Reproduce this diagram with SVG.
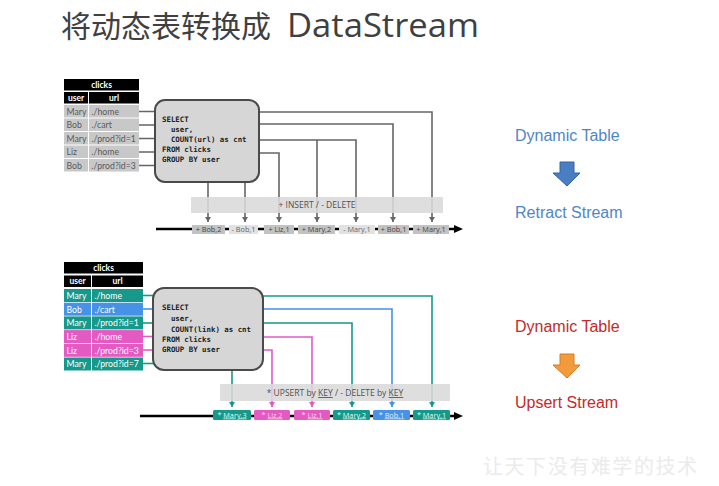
<svg xmlns="http://www.w3.org/2000/svg" width="719" height="486" viewBox="0 0 719 486">
<style>
.cell{font-family:Lato,"Open Sans",sans-serif;font-size:8.7px}
.hd{font-family:Lato,"Open Sans",sans-serif;font-size:8.5px;font-weight:bold;fill:#fff;text-anchor:middle}
.g{fill:#5a5a5a}
.w{fill:#fff}
.sql{font-family:"DejaVu Sans Mono","Liberation Mono",monospace;font-size:7.4px;font-weight:bold;fill:#222;white-space:pre}
.box{fill:#d6d6d6;stroke:#4a4a4a;stroke-width:2}
.gl{fill:none;stroke:#666;stroke-width:1.6}
.tl{fill:none;stroke:#16998a;stroke-width:1.6}
.bl{fill:none;stroke:#4592e6;stroke-width:1.6}
.pl{fill:none;stroke:#e35ac3;stroke-width:1.6}
.band{fill:#dadada;fill-opacity:0.88}
.bandt{font-family:"Open Sans",Lato,sans-serif;font-size:8.5px;fill:#505050;text-anchor:middle}
.ev{font-family:"Open Sans",Lato,sans-serif;font-size:7.3px;text-anchor:middle}
.lab{font-family:"Liberation Sans",Arial,sans-serif;font-size:16px}
</style>
<defs>
<marker id="ag" markerWidth="6" markerHeight="6" refX="5" refY="3" orient="auto" markerUnits="userSpaceOnUse"><path d="M0,0 L5,3 L0,6 z" fill="#666"/></marker>
<marker id="at" markerWidth="6" markerHeight="6" refX="5" refY="3" orient="auto" markerUnits="userSpaceOnUse"><path d="M0,0 L5,3 L0,6 z" fill="#16998a"/></marker>
<marker id="ab" markerWidth="6" markerHeight="6" refX="5" refY="3" orient="auto" markerUnits="userSpaceOnUse"><path d="M0,0 L5,3 L0,6 z" fill="#4592e6"/></marker>
<marker id="ap" markerWidth="6" markerHeight="6" refX="5" refY="3" orient="auto" markerUnits="userSpaceOnUse"><path d="M0,0 L5,3 L0,6 z" fill="#e35ac3"/></marker>
</defs>
<rect width="719" height="486" fill="#fff"/>

<g id="title">
<text x="61" y="37" font-family="'Noto Sans CJK SC',sans-serif" font-size="30" fill="#404040">将动态表转换成</text>
<text x="287" y="37" font-family="'Open Sans','Noto Sans',sans-serif" font-size="33" fill="#404040" textLength="192" lengthAdjust="spacingAndGlyphs">DataStream</text>
</g>

<!-- ===== TOP SECTION ===== -->
<g id="connectors-top">
<path class="gl" d="M139,111.5 H155 M139,125 H155 M139,138.5 H155 M139,152 H155 M139,165.5 H155"/>
<path class="gl" d="M259,112 H432 V222" marker-end="url(#ag)"/>
<path class="gl" d="M259,124 H393 V222" marker-end="url(#ag)"/>
<path class="gl" d="M259,140 H356 V222" marker-end="url(#ag)"/>
<path class="gl" d="M317,140 V222" marker-end="url(#ag)"/>
<path class="gl" d="M259,153 H279 V222" marker-end="url(#ag)"/>
<path class="gl" d="M208,182 V222" marker-end="url(#ag)"/>
<path class="gl" d="M245,182 V222" marker-end="url(#ag)"/>
</g>

<g id="table-top">
<rect x="64" y="79" width="75" height="11.5" fill="#000"/>
<text class="hd" x="101.5" y="87.8">clicks</text>
<rect x="64" y="92" width="24" height="11.5" fill="#000"/>
<rect x="89" y="92" width="50" height="11.5" fill="#000"/>
<text class="hd" x="76" y="100.8">user</text>
<text class="hd" x="114" y="100.8">url</text>
<g fill="#c8c8c8">
<rect x="64" y="105" width="24" height="12.5"/><rect x="89" y="105" width="50" height="12.5"/>
<rect x="64" y="118.5" width="24" height="12.5"/><rect x="89" y="118.5" width="50" height="12.5"/>
<rect x="64" y="132" width="24" height="12.5"/><rect x="89" y="132" width="50" height="12.5"/>
<rect x="64" y="145.5" width="24" height="12.5"/><rect x="89" y="145.5" width="50" height="12.5"/>
<rect x="64" y="159" width="24" height="12.5"/><rect x="89" y="159" width="50" height="12.5"/>
</g>
<g class="cell g">
<text x="66.5" y="114.5">Mary</text><text x="91.5" y="114.5">./home</text>
<text x="66.5" y="128">Bob</text><text x="91.5" y="128">./cart</text>
<text x="66.5" y="141.5">Mary</text><text x="91.5" y="141.5">./prod?id=1</text>
<text x="66.5" y="155">Liz</text><text x="91.5" y="155">./home</text>
<text x="66.5" y="168.5">Bob</text><text x="91.5" y="168.5">./prod?id=3</text>
</g>
</g>

<g id="query-top">
<rect class="box" x="155" y="100" width="104" height="82" rx="10"/>
<text class="sql" x="162" y="122">SELECT</text>
<text class="sql" x="162" y="132">  user,</text>
<text class="sql" x="162" y="142">  COUNT(url) as cnt</text>
<text class="sql" x="162" y="152">FROM clicks</text>
<text class="sql" x="162" y="162">GROUP BY user</text>
</g>

<g id="band-top">
<rect class="band" x="191" y="197" width="252" height="16"/>
<text class="bandt" x="317" y="208">+ INSERT / - DELETE</text>
</g>

<g id="stream-top">
<path d="M156,229 H456" stroke="#000" stroke-width="2.5"/>
<path d="M454,225 L463,229 L454,233 z" fill="#000"/>
<rect x="192" y="225" width="33" height="9" fill="#c2c2c2"/><text class="ev" x="208.5" y="232" fill="#444">+ Bob,2</text>
<rect x="229" y="225" width="29" height="9" fill="#e2e2e2"/><text class="ev" x="243.5" y="232" fill="#666">- Bob,1</text>
<rect x="264" y="225" width="30" height="9" fill="#c2c2c2"/><text class="ev" x="279" y="232" fill="#444">+ Liz,1</text>
<rect x="298" y="225" width="37" height="9" fill="#c2c2c2"/><text class="ev" x="316.5" y="232" fill="#444">+ Mary,2</text>
<rect x="339" y="225" width="36" height="9" fill="#e2e2e2"/><text class="ev" x="357" y="232" fill="#666">- Mary,1</text>
<rect x="378" y="225" width="31" height="9" fill="#c2c2c2"/><text class="ev" x="393.5" y="232" fill="#444">+ Bob,1</text>
<rect x="413" y="225" width="36" height="9" fill="#c2c2c2"/><text class="ev" x="431" y="232" fill="#444">+ Mary,1</text>
</g>

<!-- ===== BOTTOM SECTION ===== -->
<g id="connectors-bottom">
<path class="tl" d="M143,295.5 H153"/>
<path class="bl" d="M143,309 H153"/>
<path class="tl" d="M143,323 H153"/>
<path class="pl" d="M143,336.5 H153"/>
<path class="pl" d="M143,350 H153"/>
<path class="tl" d="M143,363.5 H153"/>
<path class="tl" d="M263,296 H432 V407" marker-end="url(#at)"/>
<path class="bl" d="M263,309 H392 V407" marker-end="url(#ab)"/>
<path class="tl" d="M263,323 H352 V407" marker-end="url(#at)"/>
<path class="pl" d="M263,337 H312 V407" marker-end="url(#ap)"/>
<path class="pl" d="M263,350 H272 V407" marker-end="url(#ap)"/>
<path class="tl" d="M232,370 V407" marker-end="url(#at)"/>
</g>

<g id="table-bottom">
<rect x="64" y="262" width="79" height="11.5" fill="#000"/>
<text class="hd" x="103.5" y="270.8">clicks</text>
<rect x="64" y="275.5" width="27" height="11.5" fill="#000"/>
<rect x="92" y="275.5" width="51" height="11.5" fill="#000"/>
<text class="hd" x="77.5" y="284.3">user</text>
<text class="hd" x="117.5" y="284.3">url</text>
<rect x="64" y="289" width="27" height="13" fill="#16998a"/><rect x="92" y="289" width="51" height="13" fill="#16998a"/>
<rect x="64" y="302.7" width="27" height="13" fill="#4592e6"/><rect x="92" y="302.7" width="51" height="13" fill="#4592e6"/>
<rect x="64" y="316.4" width="27" height="13" fill="#16998a"/><rect x="92" y="316.4" width="51" height="13" fill="#16998a"/>
<rect x="64" y="330.1" width="27" height="13" fill="#e35ac3"/><rect x="92" y="330.1" width="51" height="13" fill="#e35ac3"/>
<rect x="64" y="343.8" width="27" height="13" fill="#e35ac3"/><rect x="92" y="343.8" width="51" height="13" fill="#e35ac3"/>
<rect x="64" y="357.5" width="27" height="13" fill="#16998a"/><rect x="92" y="357.5" width="51" height="13" fill="#16998a"/>
<g class="cell w">
<text x="66.5" y="298.8">Mary</text><text x="94.5" y="298.8">./home</text>
<text x="66.5" y="312.5">Bob</text><text x="94.5" y="312.5">./cart</text>
<text x="66.5" y="326.2">Mary</text><text x="94.5" y="326.2">./prod?id=1</text>
<text x="66.5" y="339.9">Liz</text><text x="94.5" y="339.9">./home</text>
<text x="66.5" y="353.6">Liz</text><text x="94.5" y="353.6">./prod?id=3</text>
<text x="66.5" y="367.3">Mary</text><text x="94.5" y="367.3">./prod?id=7</text>
</g>
</g>

<g id="query-bottom">
<rect class="box" x="153" y="288" width="110" height="82" rx="11"/>
<text class="sql" x="162" y="310">SELECT</text>
<text class="sql" x="162" y="321">  user,</text>
<text class="sql" x="162" y="332">  COUNT(link) as cnt</text>
<text class="sql" x="162" y="342">FROM clicks</text>
<text class="sql" x="162" y="352">GROUP BY user</text>
</g>

<g id="band-bottom">
<rect class="band" x="220" y="384" width="230" height="17"/>
<text class="bandt" x="335" y="396">* UPSERT by <tspan text-decoration="underline">KEY</tspan> / - DELETE by <tspan text-decoration="underline">KEY</tspan></text>
</g>

<g id="stream-bottom">
<path d="M140,416 H456" stroke="#000" stroke-width="2.5"/>
<path d="M454,412 L463,416 L454,420 z" fill="#000"/>
<rect x="213" y="410" width="38" height="10" rx="1.5" fill="#16998a"/><text class="ev" x="232" y="417.5" fill="#dff">* <tspan text-decoration="underline">Mary,3</tspan></text>
<rect x="254" y="410" width="36" height="10" rx="1.5" fill="#e35ac3"/><text class="ev" x="272" y="417.5" fill="#fde">* <tspan text-decoration="underline">Liz,2</tspan></text>
<rect x="294" y="410" width="36" height="10" rx="1.5" fill="#e35ac3"/><text class="ev" x="312" y="417.5" fill="#fde">* <tspan text-decoration="underline">Liz,1</tspan></text>
<rect x="333" y="410" width="37" height="10" rx="1.5" fill="#16998a"/><text class="ev" x="351.5" y="417.5" fill="#dff">* <tspan text-decoration="underline">Mary,2</tspan></text>
<rect x="373" y="410" width="37" height="10" rx="1.5" fill="#4592e6"/><text class="ev" x="391.5" y="417.5" fill="#eef">* <tspan text-decoration="underline">Bob,1</tspan></text>
<rect x="413" y="410" width="37" height="10" rx="1.5" fill="#16998a"/><text class="ev" x="431.5" y="417.5" fill="#dff">* <tspan text-decoration="underline">Mary,1</tspan></text>
</g>

<!-- ===== RIGHT LABELS ===== -->
<g id="retract-label">
<text class="lab" x="515" y="141" fill="#4f86c6">Dynamic Table</text>
<path d="M560,162 H574 V173 H580 L567,186 L553,173 H560 Z" fill="#4a7ec3" stroke="#35639f" stroke-width="1"/>
<text class="lab" x="515" y="218" fill="#4f86c6">Retract Stream</text>
</g>
<g id="upsert-label">
<text class="lab" x="515" y="332" fill="#c42a2a">Dynamic Table</text>
<path d="M560,354 H574 V365 H580 L567,378 L553,365 H560 Z" fill="#f39a3d" stroke="#d47c25" stroke-width="1"/>
<text class="lab" x="515" y="408" fill="#c42a2a">Upsert Stream</text>
</g>

<g id="watermark">
<text x="483" y="474" font-family="'Noto Sans CJK SC',sans-serif" font-size="20" fill="#ebebeb" textLength="214" lengthAdjust="spacing">让天下没有难学的技术</text>
</g>
</svg>
